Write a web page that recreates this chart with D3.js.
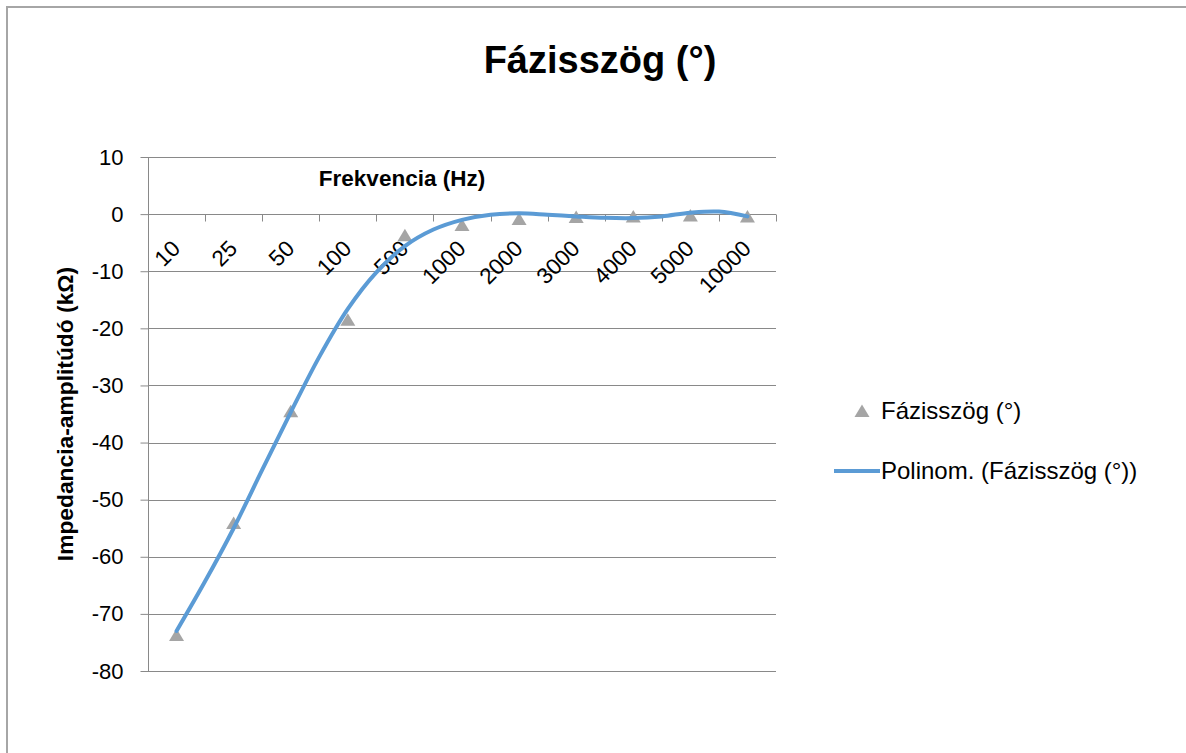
<!DOCTYPE html>
<html>
<head>
<meta charset="utf-8">
<script src="https://cdn.jsdelivr.net/npm/d3@7"></script>
<style>
  html, body { margin: 0; padding: 0; background: #fff; }
  svg { display: block; font-family: "Liberation Sans", Arial, sans-serif; }
</style>
</head>
<body>
<svg id="chart" width="1186" height="753"></svg>
<script>
// ---- data ----
const categories = ["10", "25", "50", "100", "500", "1000", "2000", "3000", "4000", "5000", "10000"];
const phaseValues = [-73.7, -54.1, -34.5, -18.5, -3.7, -1.9, -0.85, -0.5, -0.4, -0.25, -0.4];
// polynomial trendline at category index positions
const trendIndex = [0, 0.5, 1, 1.5, 2, 2.5, 3, 3.5, 4, 4.5, 5, 5.5, 6, 6.5, 7, 7.5, 8, 8.5, 9, 9.5, 10];
const trendValues = [-73, -64.3, -55, -44.8, -34.7, -25, -16.6, -10.2, -5.6, -2.7, -1.0, -0.1, 0.15, -0.1, -0.4, -0.65, -0.7, -0.4, 0.25, 0.45, -0.4];
const yTicks = [10, 0, -10, -20, -30, -40, -50, -60, -70, -80];
const titleText = "Fázisszög (°)";
const xTitle = "Frekvencia (Hz)";
const yTitle = "Impedancia-amplitúdó (kΩ)";
const seriesName = "Fázisszög (°)";
const trendName = "Polinom. (Fázisszög (°))";

// ---- layout ----
const svg = d3.select("#chart");
const pLeft = 148, pRight = 776, pTop = 157, pBottom = 671;
const gridColor = "#898989";
const markerColor = "#a5a5a5";
const lineColor = "#5b9bd5";

const x = d3.scaleBand().domain(categories).range([pLeft, pRight]).paddingInner(0).paddingOuter(0);
const y = d3.scaleLinear().domain([-80, 10]).range([pBottom, pTop]);
const xi = d3.scaleLinear().domain([0, categories.length - 1])
  .range([x(categories[0]) + x.bandwidth() / 2, x(categories[categories.length - 1]) + x.bandwidth() / 2]);

// outer border
svg.append("rect").attr("x", 7).attr("y", 7).attr("width", 1200).attr("height", 800)
  .attr("fill", "none").attr("stroke", "#a6a6a6").attr("stroke-width", 2);

// title
svg.append("text").attr("x", 600).attr("y", 73).attr("text-anchor", "middle")
  .attr("font-weight", "bold").attr("font-size", 38).attr("fill", "#000").text(titleText);

// gridlines
svg.append("g").selectAll("line").data(yTicks).join("line")
  .attr("x1", pLeft).attr("x2", pRight)
  .attr("y1", d => Math.round(y(d)) + 0.5).attr("y2", d => Math.round(y(d)) + 0.5)
  .attr("stroke", gridColor).attr("stroke-width", 1);

// y axis
const yAxis = d3.axisLeft(y).tickValues(yTicks).tickSize(8).tickPadding(17)
  .tickFormat(d => String(d));
const gy = svg.append("g").attr("transform", `translate(${pLeft + 0.5},0)`).call(yAxis);
gy.select(".domain").attr("stroke", gridColor).attr("d", `M0,${pTop}V${pBottom}`);
gy.selectAll(".tick line").attr("stroke", gridColor);
gy.selectAll(".tick text").attr("font-size", 22).attr("fill", "#000")
  .attr("font-family", "Liberation Sans, Arial, sans-serif");

// x axis at y=0 (ticks at category boundaries)
const zeroY = Math.round(y(0)) + 0.5;
const boundaries = categories.map(c => x(c)).concat([pRight]);
svg.append("g").selectAll("line").data(boundaries).join("line")
  .attr("x1", d => Math.round(d) + 0.5).attr("x2", d => Math.round(d) + 0.5)
  .attr("y1", zeroY).attr("y2", zeroY + 7)
  .attr("stroke", gridColor);
svg.append("line").attr("x1", pLeft).attr("x2", pRight).attr("y1", zeroY).attr("y2", zeroY)
  .attr("stroke", gridColor);

// x tick labels rotated
svg.append("g").selectAll("text").data(categories).join("text")
  .attr("transform", d => `translate(${x(d) + x.bandwidth() / 2 + 5},${250})rotate(-45)`)
  .attr("text-anchor", "end").attr("font-size", 22.5).attr("fill", "#000")
  .text(d => d);

// x axis title
svg.append("text").attr("x", 402).attr("y", 186).attr("text-anchor", "middle")
  .attr("font-weight", "bold").attr("font-size", 22.5).attr("fill", "#000").text(xTitle);

// y axis title
svg.append("text").attr("transform", `translate(73,${(pTop + pBottom) / 2})rotate(-90)`)
  .attr("text-anchor", "middle").attr("font-weight", "bold").attr("font-size", 22.8)
  .attr("fill", "#000").text(yTitle);

// markers
const tri = {
  draw(ctx, size) {
    ctx.moveTo(0, -6.5);
    ctx.lineTo(7.5, 6);
    ctx.lineTo(-7.5, 6);
    ctx.closePath();
  }
};
svg.append("g").selectAll("path").data(phaseValues).join("path")
  .attr("d", d3.symbol().type(tri).size(100))
  .attr("transform", (d, i) => `translate(${x(categories[i]) + x.bandwidth() / 2},${y(d)})`)
  .attr("fill", markerColor);

// trendline
const line = d3.line().x((d, i) => xi(trendIndex[i])).y(d => y(d)).curve(d3.curveCatmullRom.alpha(0.5));
svg.append("path").datum(trendValues).attr("d", line)
  .attr("fill", "none").attr("stroke", lineColor).attr("stroke-width", 4).attr("stroke-linecap", "round");

// legend
const lg = svg.append("g");
lg.append("path").attr("d", d3.symbol().type(tri).size(100)).attr("transform", "translate(862,411)")
  .attr("fill", markerColor);
lg.append("text").attr("x", 881).attr("y", 419).attr("font-size", 24).attr("fill", "#000").text(seriesName);
lg.append("line").attr("x1", 834).attr("x2", 880).attr("y1", 471).attr("y2", 471)
  .attr("stroke", lineColor).attr("stroke-width", 4);
lg.append("text").attr("x", 881).attr("y", 479).attr("font-size", 24).attr("fill", "#000").text(trendName);
</script>
</body>
</html>
